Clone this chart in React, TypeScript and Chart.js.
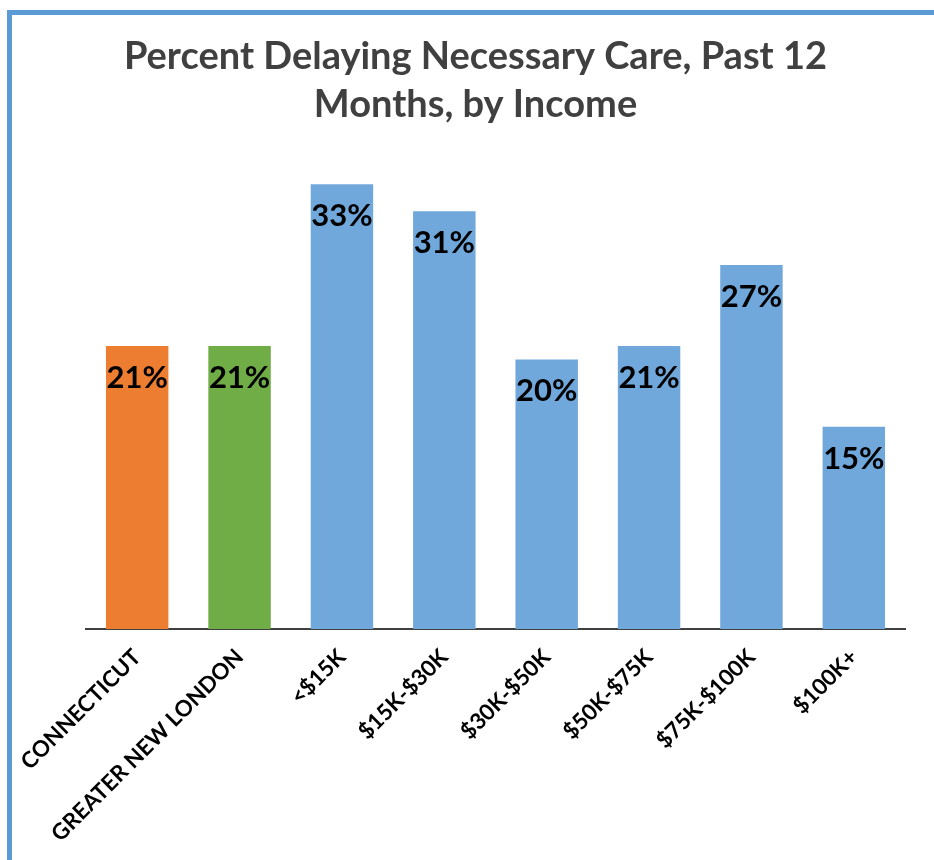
import React, { useEffect, useRef } from "react";
import { Chart, registerables } from "chart.js";

Chart.register(...registerables);

const categories = [
  "CONNECTICUT",
  "GREATER NEW LONDON",
  "<$15K",
  "$15K-$30K",
  "$30K-$50K",
  "$50K-$75K",
  "$75K-$100K",
  "$100K+",
];
const values = [21, 21, 33, 31, 20, 21, 27, 15];
const barColors = [
  "#ED7D31",
  "#70AD47",
  "#70A8DC",
  "#70A8DC",
  "#70A8DC",
  "#70A8DC",
  "#70A8DC",
  "#70A8DC",
];
const titleLines = ["Percent Delaying Necessary Care, Past 12", "Months, by Income"];

const FONT = "Lato, 'Open Sans', sans-serif";

const valueLabels = {
  id: "valueLabels",
  afterDatasetsDraw(chart: any) {
    const ctx = chart.ctx;
    const meta = chart.getDatasetMeta(0);
    ctx.save();
    ctx.font = `bold 31px ${FONT}`;
    ctx.fillStyle = "#000000";
    ctx.textAlign = "center";
    ctx.textBaseline = "middle";
    meta.data.forEach((bar: any, i: number) => {
      const v = chart.data.datasets[0].data[i];
      ctx.fillText(`${v}%`, bar.x, bar.y + 32);
    });
    ctx.restore();
  },
};

export default function App() {
  const canvasRef = useRef<HTMLCanvasElement | null>(null);

  useEffect(() => {
    if (!canvasRef.current) return;
    const chart = new Chart(canvasRef.current, {
      type: "bar",
      data: {
        labels: categories,
        datasets: [
          {
            data: values,
            backgroundColor: barColors,
            borderWidth: 0,
            barPercentage: 0.61,
            categoryPercentage: 1,
          },
        ],
      },
      options: {
        animation: false,
        responsive: false,
        maintainAspectRatio: false,
        layout: { padding: { left: 46, right: 29, top: 0, bottom: 6 } },
        plugins: {
          legend: { display: false },
          tooltip: { enabled: false },
          title: {
            display: true,
            text: titleLines,
            color: "#404040",
            font: { family: FONT, size: 38, weight: "bold", lineHeight: 1.28 },
            padding: { top: 32, bottom: 28 },
          },
        },
        scales: {
          x: {
            grid: { display: false },
            border: { display: true, color: "#404040", width: 2 },
            afterFit: (scale: any) => {
              scale.paddingLeft = 86;
            },
            ticks: {
              color: "#000000",
              font: { family: FONT, size: 22.3, weight: "bold" },
              minRotation: 45,
              maxRotation: 45,
              autoSkip: false,
              padding: 7,
            },
          },
          y: {
            display: false,
            min: 0,
            max: 35,
          },
        },
      },
      plugins: [valueLabels],
    });
    return () => chart.destroy();
  }, []);

  return (
    <div
      style={{
        position: "fixed",
        left: 0,
        top: 0,
        width: 934,
        height: 860,
        background: "#ffffff",
        overflow: "hidden",
      }}
    >
      <div
        style={{
          position: "absolute",
          left: 7,
          top: 10,
          right: -10,
          bottom: -10,
          borderTop: "5px solid #5B9BD5",
          borderLeft: "5px solid #5B9BD5",
        }}
      />
      <canvas
        ref={canvasRef}
        width={934}
        height={860}
        style={{ position: "absolute", left: 0, top: 0 }}
      />
    </div>
  );
}
